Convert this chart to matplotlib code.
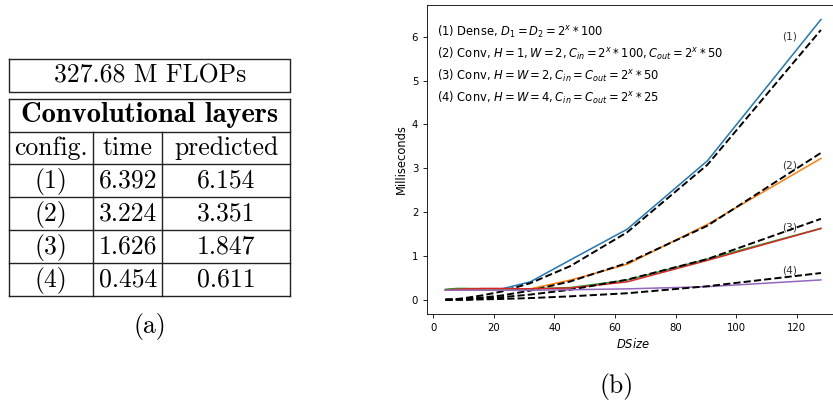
import matplotlib
matplotlib.use("Agg")
import matplotlib.pyplot as plt

# ---- table (a) ----
table_title = "327.68 M FLOPs"
table_header = "Convolutional layers"
col_names = ["config.", "time", "predicted"]
configs = ["(1)", "(2)", "(3)", "(4)"]
times = ["6.392", "3.224", "1.626", "0.454"]
predicted = ["6.154", "3.351", "1.847", "0.611"]

# ---- plot (b) ----
dsize = [4, 5.66, 8, 11.31, 16, 22.63, 32, 45.25, 64, 90.51, 128]
time_1 = [0.23, 0.24, 0.25, 0.25, 0.24, 0.25, 0.41, 0.91, 1.61, 3.17, 6.392]
time_2 = [0.23, 0.23, 0.23, 0.23, 0.23, 0.24, 0.25, 0.45, 0.81, 1.72, 3.224]
time_3a = [0.24, 0.25, 0.26, 0.26, 0.25, 0.25, 0.25, 0.28, 0.45, 0.93, 1.63]
time_3 = [0.22, 0.23, 0.24, 0.25, 0.26, 0.26, 0.25, 0.27, 0.41, 0.90, 1.626]
time_4 = [0.22, 0.22, 0.22, 0.22, 0.22, 0.22, 0.22, 0.23, 0.25, 0.30, 0.454]
pred_1 = [0.01, 0.01, 0.02, 0.05, 0.10, 0.19, 0.38, 0.77, 1.54, 3.08, 6.154]
pred_2 = [0.00, 0.01, 0.01, 0.03, 0.05, 0.10, 0.21, 0.42, 0.84, 1.69, 3.351]
pred_3 = [0.00, 0.00, 0.01, 0.01, 0.03, 0.06, 0.12, 0.23, 0.46, 0.93, 1.847]
pred_4 = [0.00, 0.00, 0.00, 0.00, 0.01, 0.02, 0.04, 0.08, 0.15, 0.31, 0.611]
labels_y = [6.0, 3.07, 1.64, 0.66]
legend_lines = [
    r"(1) Dense, $D_1 = D_2 = 2^x * 100$",
    r"(2) Conv, $H = 1, W = 2, C_{in} = 2^x * 100, C_{out} = 2^x * 50$",
    r"(3) Conv, $H = W = 2, C_{in} = C_{out} = 2^x * 50$",
    r"(4) Conv, $H = W = 4, C_{in} = C_{out} = 2^x * 25$",
]

fig = plt.figure(figsize=(8.33, 4.03), dpi=100)

# background axes in pixel coordinates for the table and captions
bg = fig.add_axes([0, 0, 1, 1])
bg.set_xlim(0, 833)
bg.set_ylim(403, 0)
bg.axis("off")

lc = "#222222"
lw = 1.0
x0, x1, x2, x3 = 9.3, 93.3, 162.3, 290
# title box
bg.plot([x0, x3, x3, x0, x0], [59.3, 59.3, 92.3, 92.3, 59.3], color=lc, lw=lw)
# main table
rows = [99, 131.7, 164.3, 197.3, 230.3, 263.3, 296.3]
for y in rows:
    bg.plot([x0, x3], [y, y], color=lc, lw=lw)
bg.plot([x0, x0], [rows[0], rows[-1]], color=lc, lw=lw)
bg.plot([x3, x3], [rows[0], rows[-1]], color=lc, lw=lw)
for x in (x1, x2):
    bg.plot([x, x], [rows[1], rows[-1]], color=lc, lw=lw)

fs = 18.5
cx = [(x0 + x1) / 2, (x1 + x2) / 2, (x2 + x3) / 2]
bg.text((x0 + x3) / 2, 92.3 - 10, table_title, family="cmr10", fontsize=fs,
        ha="center", va="baseline")
bg.text((x0 + x3) / 2, rows[1] - 9.5, table_header, family="cmb10", fontsize=20.5,
        ha="center", va="baseline")
for c, name in zip(cx, col_names):
    bg.text(c, rows[2] - 9.5, name, family="cmr10", fontsize=fs, ha="center", va="baseline")
for i, (cfg, t, p) in enumerate(zip(configs, times, predicted)):
    yb = rows[3 + i] - 9.5
    for c, s in zip(cx, (cfg, t, p)):
        bg.text(c, yb, s, family="cmr10", fontsize=fs, ha="center", va="baseline")

bg.text(150, 333, "(a)", family="cmr10", fontsize=fs, ha="center", va="baseline")
bg.text(616.7, 393, "(b)", family="cmr10", fontsize=fs, ha="center", va="baseline")

# ---- line plot ----
ax = fig.add_axes([426.7 / 833, (403 - 314.3) / 403, 413 / 833, 309.6 / 403])
small = 7.3
mid = 8.3
ax.plot(dsize, time_1, lw=1.1)
ax.plot(dsize, pred_1, "k--", lw=1.4)
ax.plot(dsize, time_2, lw=1.1)
ax.plot(dsize, pred_2, "k--", lw=1.4)
ax.plot(dsize, time_3a, lw=1.1)
ax.plot(dsize, time_3, lw=1.1)
ax.plot(dsize, pred_3, "k--", lw=1.4)
ax.plot(dsize, time_4, lw=1.1)
ax.plot(dsize, pred_4, "k--", lw=1.4)

for k, yv in enumerate(labels_y):
    ax.text(117.5, yv, "(%d)" % (k + 1), fontsize=7.6, color="#333333",
            ha="center", va="center", zorder=1)

for k, s in enumerate(legend_lines):
    ax.text(0.026, 0.900 - k * 0.0715, s, transform=ax.transAxes,
            fontsize=mid, ha="left", va="baseline")

ax.set_xlim(-2.2, 134.2)
ax.set_ylim(-0.33, 6.73)
ax.set_xticks([0, 20, 40, 60, 80, 100, 120])
ax.set_ylabel("Milliseconds", fontsize=mid, labelpad=3)
ax.set_xlabel("$DSize$", fontsize=mid, labelpad=3)
ax.tick_params(labelsize=small, length=2.6, width=0.6)
for sp in ax.spines.values():
    sp.set_linewidth(0.6)

fig.savefig("out.png", dpi=100)
